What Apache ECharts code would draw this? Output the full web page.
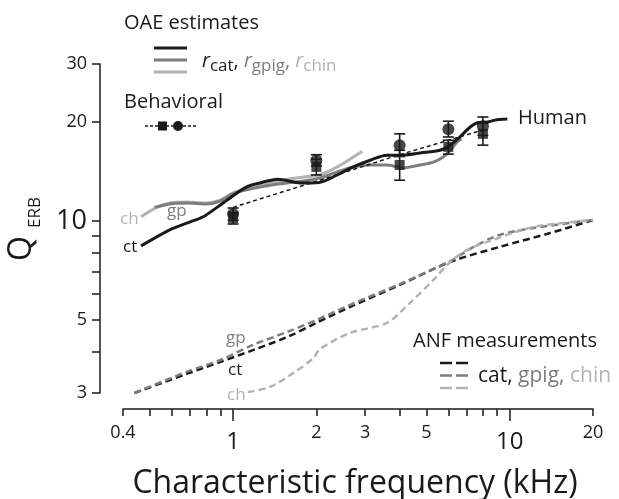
<!DOCTYPE html>
<html><head><meta charset="utf-8">
<script src="https://cdn.jsdelivr.net/npm/echarts@6/dist/echarts.min.js"></script>
<style>html,body{margin:0;padding:0;background:#fff}#c{width:619px;height:499px}</style>
</head><body><div id="c"></div>
<script>
// ---------- DATA (frequency in kHz, Q_ERB) ----------
// OAE estimates (solid lines), human
const oaeCatF  = [0.465, 0.59, 0.68, 0.78, 0.875, 0.975, 1.12, 1.25, 1.45, 1.75, 2.05, 2.38, 2.72, 3.13, 3.6, 4.1, 4.75, 5.6, 6.1, 6.6, 7.2, 7.6, 8.3, 9.0, 9.8];
const oaeCatQ  = [8.4, 9.4, 9.85, 10.3, 11.0, 11.75, 12.7, 13.05, 13.4, 13.05, 13.1, 13.8, 14.6, 15.3, 15.85, 15.85, 16.1, 16.4, 17.0, 18.0, 19.3, 19.85, 20.0, 20.3, 20.4];
const oaeGpigF = [0.52, 0.59, 0.68, 0.8, 0.9, 1.0, 1.15, 1.45, 1.8, 2.05, 2.38, 2.72, 3.13, 3.6, 4.1, 4.75, 5.3, 5.75, 6.1, 6.45, 6.7];
const oaeGpigQ = [11.0, 11.27, 11.34, 11.27, 11.5, 12.1, 12.5, 12.95, 13.23, 13.5, 14.1, 14.6, 14.8, 14.8, 14.5, 14.8, 15.1, 15.65, 16.4, 17.4, 17.75];
const oaeChinF = [0.465, 0.53, 0.59, 0.68, 0.8, 0.9, 1.0, 1.15, 1.45, 1.8, 2.05, 2.38, 2.93];
const oaeChinQ = [10.3, 11.0, 11.34, 11.42, 11.34, 11.58, 12.17, 12.6, 13.2, 13.6, 13.8, 14.6, 16.3];
// ANF measurements (dashed lines)
const anfCatF  = [0.44, 0.68, 0.9, 1.18, 1.57, 2.0, 2.65, 4.0, 6.1, 9.2, 14.0, 20.0];
const anfCatQ  = [3.0, 3.43, 3.73, 4.05, 4.44, 4.9, 5.48, 6.39, 7.51, 8.34, 9.19, 10.07];
const anfGpigF = [0.44, 0.68, 0.9, 1.18, 1.57, 2.0, 2.65, 4.0, 6.1, 7.4, 9.2, 12.2, 20.0];
const anfGpigQ = [3.0, 3.48, 3.78, 4.2, 4.6, 5.0, 5.56, 6.43, 7.55, 8.34, 9.07, 9.52, 10.07];
const anfChinF = [1.13, 1.36, 1.65, 1.95, 2.06, 2.65, 3.6, 4.35, 5.3, 6.1, 7.0, 8.7, 12.2, 20.0];
const anfChinQ = [3.02, 3.13, 3.45, 3.83, 4.08, 4.57, 4.9, 5.63, 6.62, 7.51, 8.16, 8.76, 9.59, 10.07];
// Behavioral (human) data points with error bars
const behF      = [1, 2, 4, 6, 8];
const circleQ   = [10.5, 15.3, 17.0, 19.0, 19.4];
const circleLo  = [10.05, 14.7, 15.7, 18.0, 18.2];
const circleHi  = [10.95, 15.9, 18.4, 20.1, 20.7];
const squareQ   = [10.2, 14.6, 14.8, 16.8, 18.4];
const squareLo  = [9.79, 13.8, 13.3, 15.97, 17.0];
const squareHi  = [10.6, 15.4, 16.4, 17.6, 19.8];
// Behavioral fit (dashed)
const fitF = [1, 2, 4, 8];
const fitQ = [11.0, 13.2, 15.9, 18.9];
// Axes
const xMin = 0.4, xMax = 20, yMin = 3, yMax = 30;
const xMinorTicks = [0.4, 0.5, 0.6, 0.7, 0.8, 0.9, 2, 3, 4, 5, 6, 7, 8, 9, 20];
const xMajorTicks = [1, 10];
const xSmallLabels = [0.4, 2, 3, 5, 20];
const xBigLabels = [1, 10];
const yTicks = [3, 4, 5, 6, 7, 8, 9, 10, 20, 30];
const ySmallLabels = [3, 5, 20, 30];
const yBigLabels = [10];

// ---------- helpers ----------
const L = Math.log10;
const zip = (a, b) => a.map((v, i) => [v, b[i]]);
const fmt = v => String(Math.round(Math.pow(10, v) * 10) / 10);
const K = '#1a1a1a', G = '#7d7d7d', LG = '#b3b3b3';
const FF = '"Open Sans"';
const mctx = document.createElement('canvas').getContext('2d');
function tw(s, size, st) { mctx.font = (st || 'normal') + ' ' + size + 'px ' + FF; return mctx.measureText(s).width; }
function txt(x, base, s, size, color, st, align) {
  return { type: 'text', x: x, y: base - 0.285 * size, z: 50,
    style: { text: s, font: (st || 'normal') + ' ' + size + 'px ' + FF, fill: color,
      textAlign: align || 'left', textVerticalAlign: 'middle', align: align || 'left', verticalAlign: 'middle' } };
}
function runs(x0, base, parts) {
  let x = x0; const out = [];
  parts.forEach(p => { const [t, size, color, dy, st] = p; out.push(txt(x, base + (dy || 0), t, size, color, st)); x += tw(t, size, st); });
  return out;
}
function hline(x1, x2, y, color, w, dash) {
  return { type: 'line', z: 50, shape: { x1: x1, y1: y, x2: x2, y2: y }, style: { stroke: color, lineWidth: w, lineDash: dash || null } };
}

const graphics = [];
// Y title Q_ERB (rotated, reading bottom to top)
graphics.push({ type: 'text', x: 22, y: 261, rotation: Math.PI / 2, z: 50,
  style: { text: 'Q', font: 'normal 32px ' + FF, fill: K, textAlign: 'left', textVerticalAlign: 'middle', align: 'left', verticalAlign: 'middle' } });
graphics.push({ type: 'text', x: 35, y: 228, rotation: Math.PI / 2, z: 50,
  style: { text: 'ERB', font: 'normal 17px ' + FF, fill: K, textAlign: 'left', textVerticalAlign: 'middle', align: 'left', verticalAlign: 'middle' } });
// X title
graphics.push(txt(355, 493, 'Characteristic frequency (kHz)', 32, K, 'normal', 'center'));
// OAE legend
graphics.push(txt(124, 29, 'OAE estimates', 20, K));
graphics.push(hline(154, 187, 48, K, 3));
graphics.push(hline(154, 187, 60, G, 3));
graphics.push(hline(154, 187, 72, LG, 3));
runs(202, 67, [['r', 20, K, 0, 'italic'], ['cat', 17, K, 4], [', ', 20, K, 0],
  ['r', 20, G, 0, 'italic'], ['gpig', 17, G, 4], [', ', 20, G, 0],
  ['r', 20, LG, 0, 'italic'], ['chin', 17, LG, 4]]).forEach(e => graphics.push(e));
// Behavioral legend
graphics.push(txt(124, 108, 'Behavioral', 20, K));
graphics.push(hline(145, 158, 126, K, 1.5, [3, 2]));
graphics.push(hline(166, 173, 126, K, 1.5, [3, 2]));
graphics.push(hline(183, 198, 126, K, 1.5, [3, 2]));
graphics.push({ type: 'rect', z: 51, shape: { x: 158, y: 121.5, width: 9, height: 9 }, style: { fill: K } });
graphics.push({ type: 'circle', z: 51, shape: { cx: 178, cy: 126, r: 5 }, style: { fill: K } });
// Human
graphics.push(txt(518, 124, 'Human', 20, K));
// ANF legend
graphics.push(txt(413, 347, 'ANF measurements', 20, K));
[[363, K], [375.5, G], [388, LG]].forEach(([y, c]) => { graphics.push(hline(440, 452, y, c, 2.5)); graphics.push(hline(456, 468, y, c, 2.5)); });
runs(478, 382, [['cat,', 21, K, 0], [' gpig,', 21, G, 0], [' chin', 21, LG, 0]]).forEach(e => graphics.push(e));
// curve labels
graphics.push(txt(120, 224, 'ch', 17, LG));
graphics.push(txt(167, 216, 'gp', 17, G));
graphics.push(txt(123, 252, 'ct', 17, K));
graphics.push(txt(226, 343, 'gp', 17, G));
graphics.push(txt(228, 375, 'ct', 17, K));
graphics.push(txt(227, 400, 'ch', 17, LG));

function errBar(color) {
  return function (params, api) {
    const x = api.value(0);
    const p1 = api.coord([x, api.value(1)]);
    const p2 = api.coord([x, api.value(2)]);
    const w = 5.5;
    const st = { stroke: color, lineWidth: 1.6 };
    return { type: 'group', children: [
      { type: 'line', shape: { x1: p1[0], y1: p1[1], x2: p2[0], y2: p2[1] }, style: st },
      { type: 'line', shape: { x1: p1[0] - w, y1: p1[1], x2: p1[0] + w, y2: p1[1] }, style: st },
      { type: 'line', shape: { x1: p2[0] - w, y1: p2[1], x2: p2[0] + w, y2: p2[1] }, style: st }
    ] };
  };
}

const axText = { color: K, fontFamily: 'Open Sans' };
const option = {
  animation: false,
  backgroundColor: '#fff',
  grid: { left: 123, right: 26, top: 64, bottom: 106, containLabel: false },
  xAxis: [
    { type: 'log', logBase: 10, min: xMin, max: xMax, show: false, position: 'top' },
    { type: 'value', position: 'bottom', min: L(xMin), max: L(xMax), offset: 16,
      axisLine: { show: true, onZero: false, lineStyle: { color: K, width: 1.5 } },
      axisTick: { show: true, customValues: xMinorTicks.map(L), length: 7, lineStyle: { color: K, width: 1.5 } },
      axisLabel: Object.assign({ customValues: xSmallLabels.map(L), formatter: fmt, fontSize: 18, margin: 15 }, axText),
      splitLine: { show: false } },
    { type: 'value', position: 'bottom', min: L(xMin), max: L(xMax), offset: 16,
      axisLine: { show: false, onZero: false },
      axisTick: { show: true, customValues: xMajorTicks.map(L), length: 12, lineStyle: { color: K, width: 1.5 } },
      axisLabel: Object.assign({ customValues: xBigLabels.map(L), formatter: fmt, fontSize: 24, margin: 21 }, axText),
      splitLine: { show: false } }
  ],
  yAxis: [
    { type: 'log', logBase: 10, min: yMin, max: yMax, show: false, position: 'right' },
    { type: 'value', position: 'left', min: L(yMin), max: L(yMax), offset: 23,
      axisLine: { show: true, onZero: false, lineStyle: { color: K, width: 1.5 } },
      axisTick: { show: true, customValues: yTicks.map(L), length: 8, lineStyle: { color: K, width: 1.5 } },
      axisLabel: Object.assign({ customValues: ySmallLabels.map(L), formatter: fmt, fontSize: 18, margin: 13 }, axText),
      splitLine: { show: false } },
    { type: 'value', position: 'left', min: L(yMin), max: L(yMax), offset: 23,
      axisLine: { show: false, onZero: false },
      axisTick: { show: false },
      axisLabel: Object.assign({ customValues: yBigLabels.map(L), formatter: fmt, fontSize: 27, margin: 13 }, axText),
      splitLine: { show: false } }
  ],
  graphic: { elements: graphics },
  series: [
    { name: 'ANF cat', type: 'line', data: zip(anfCatF, anfCatQ), symbol: 'none', smooth: 0.3, z: 2,
      lineStyle: { color: K, width: 2.5, type: [7, 4] } },
    { name: 'ANF gpig', type: 'line', data: zip(anfGpigF, anfGpigQ), symbol: 'none', smooth: 0.3, z: 2,
      lineStyle: { color: G, width: 2.5, type: [7, 4] } },
    { name: 'ANF chin', type: 'line', data: zip(anfChinF, anfChinQ), symbol: 'none', smooth: 0.3, z: 2,
      lineStyle: { color: LG, width: 2.5, type: [7, 4] } },
    { name: 'OAE chin', type: 'line', data: zip(oaeChinF, oaeChinQ), symbol: 'none', smooth: 0.3, z: 3,
      lineStyle: { color: LG, width: 3 } },
    { name: 'OAE gpig', type: 'line', data: zip(oaeGpigF, oaeGpigQ), symbol: 'none', smooth: 0.3, z: 3,
      lineStyle: { color: G, width: 3 } },
    { name: 'OAE cat', type: 'line', data: zip(oaeCatF, oaeCatQ), symbol: 'none', smooth: 0.3, z: 3,
      lineStyle: { color: K, width: 3 } },
    { name: 'Behavioral fit', type: 'line', data: zip(fitF, fitQ), symbol: 'none', z: 4,
      lineStyle: { color: K, width: 1.5, type: [4, 3] } },
    { name: 'circle err', type: 'custom', z: 5, renderItem: errBar(K), encode: { x: 0, y: [1, 2] },
      data: behF.map((f, i) => [f, circleLo[i], circleHi[i]]) },
    { name: 'square err', type: 'custom', z: 5, renderItem: errBar(K), encode: { x: 0, y: [1, 2] },
      data: behF.map((f, i) => [f, squareLo[i], squareHi[i]]) },
    { name: 'circles', type: 'scatter', symbol: 'circle', symbolSize: 12, z: 6, itemStyle: { color: K },
      data: zip(behF, circleQ) },
    { name: 'squares', type: 'scatter', symbol: 'rect', symbolSize: 10, z: 6, itemStyle: { color: K },
      data: zip(behF, squareQ) }
  ]
};
const chart = echarts.init(document.getElementById('c'), null, { renderer: 'canvas' });
chart.setOption(option);
</script>
</body></html>
